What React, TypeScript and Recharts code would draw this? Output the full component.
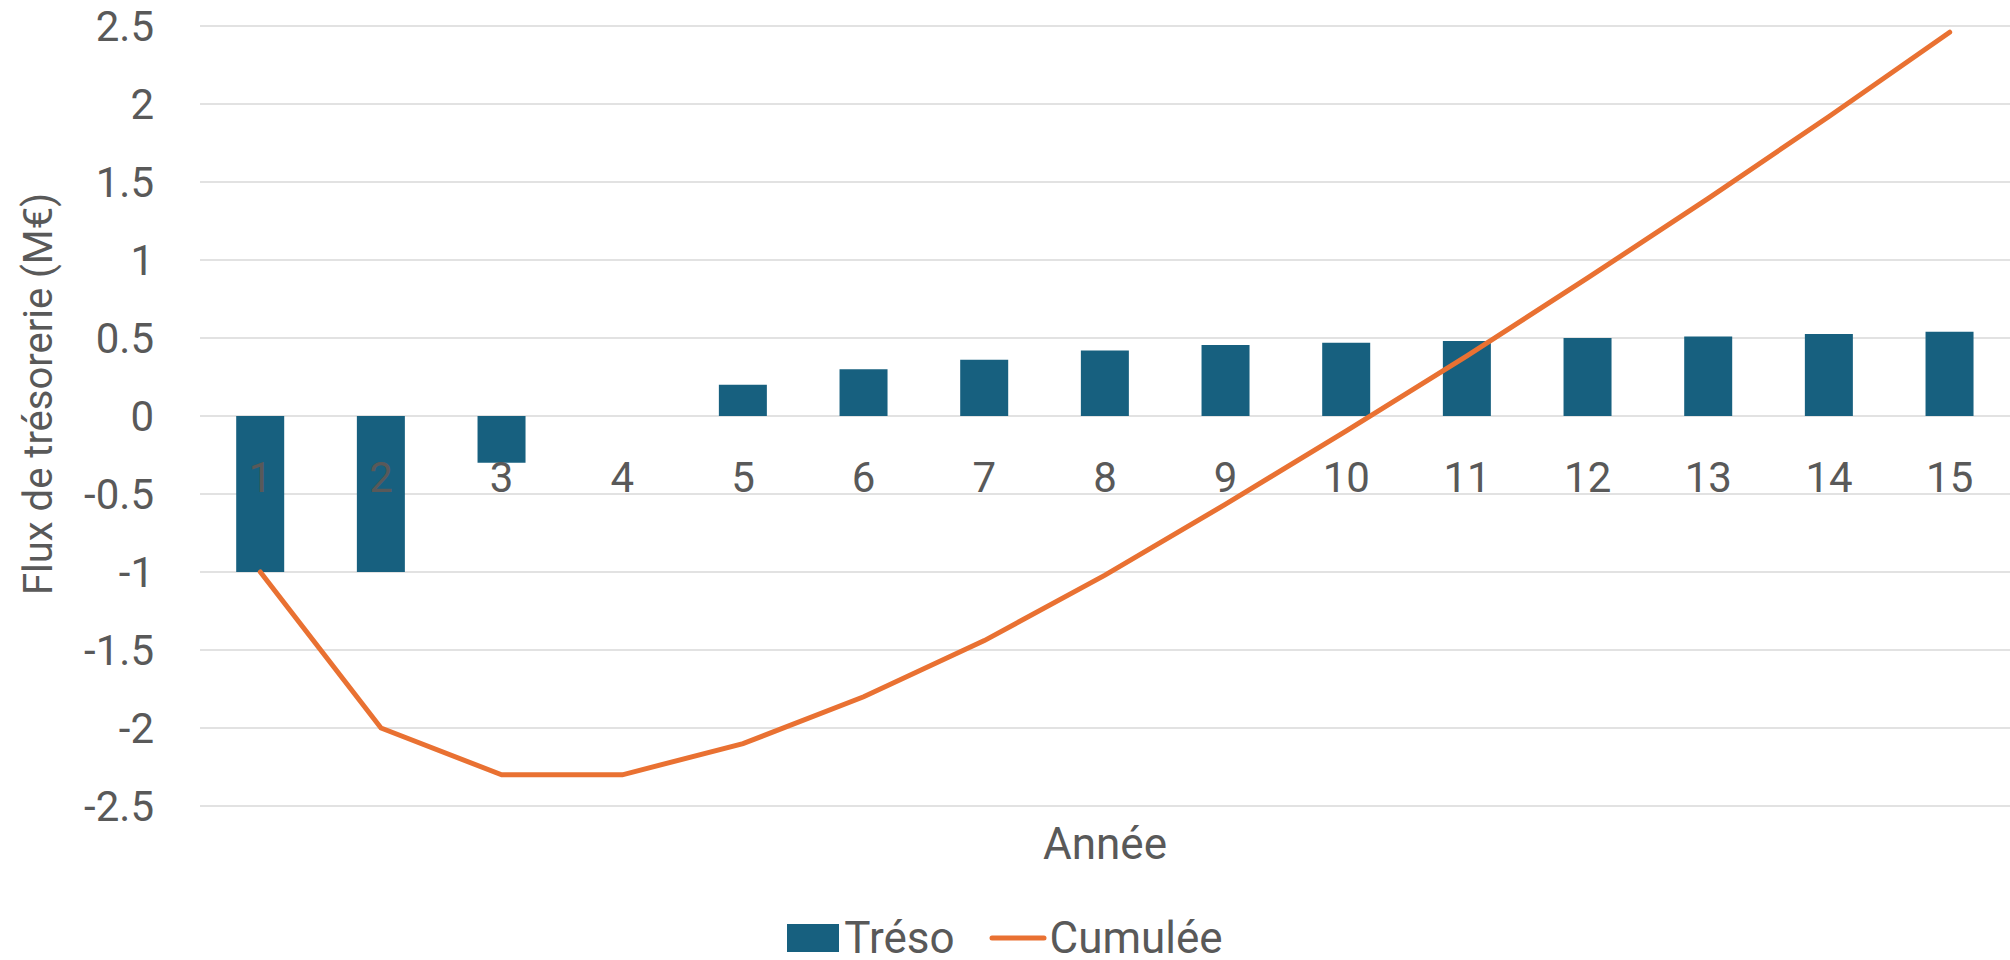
import {
  ComposedChart,
  Bar,
  Line,
  XAxis,
  YAxis,
  CartesianGrid,
  Legend,
} from "recharts";

const years = ["1", "2", "3", "4", "5", "6", "7", "8", "9", "10", "11", "12", "13", "14", "15"];
const treso = [-1, -1, -0.3, 0, 0.2, 0.3, 0.36, 0.42, 0.455, 0.47, 0.48, 0.5, 0.51, 0.525, 0.54];
const cumulee = [-1, -2, -2.3, -2.3, -2.1, -1.8, -1.44, -1.02, -0.565, -0.095, 0.385, 0.885, 1.395, 1.92, 2.46];
const yTicks = [-2.5, -2, -1.5, -1, -0.5, 0, 0.5, 1, 1.5, 2, 2.5];

const data = years.map((year, i) => ({ year, treso: treso[i], cumulee: cumulee[i] }));

const FONT = "Roboto, 'Liberation Sans', sans-serif";
const TEXT = "#595959";
const BLUE = "#17607f";
const ORANGE = "#e97132";

// category labels sit next to the zero line, like in Excel
const CategoryTick = ({ x, y, payload }: any) => (
  <text x={x} y={y} dy={-320} textAnchor='middle' fill={TEXT} fontSize={42} fontFamily={FONT}>
    {payload.value}
  </text>
);

const LegendContent = () => (
  <div
    style={{
      display: "flex",
      justifyContent: "center",
      alignItems: "center",
      height: 44,
      fontFamily: FONT,
      fontSize: 44,
      color: TEXT,
    }}
  >
    <span style={{ width: 52, height: 28, background: BLUE, display: "inline-block", marginRight: 5 }} />
    <span style={{ marginRight: 34 }}>Tréso</span>
    <svg width={58} height={10} style={{ marginRight: 3 }}>
      <line x1={3} y1={5} x2={55} y2={5} stroke={ORANGE} strokeWidth={5} strokeLinecap='round' />
    </svg>
    <span>Cumulée</span>
  </div>
);

const App = () => {
  return (
    <div style={{ position: "absolute", left: 0, top: 0, background: "#fff" }}>
      <ComposedChart
        width={2010}
        height={960}
        data={data}
        margin={{ top: 26, right: 0, left: 0, bottom: 0 }}
        barCategoryGap='30%'
      >
        <CartesianGrid vertical={false} stroke='#d9d9d9' strokeWidth={1.5} />
        <XAxis
          dataKey='year'
          axisLine={false}
          tickLine={false}
          tickMargin={0}
          height={110}
          interval={0}
          tick={<CategoryTick />}
          label={{
            value: "Année",
            position: "insideTop",
            offset: 22,
            fill: TEXT,
            fontSize: 44,
            fontFamily: FONT,
          }}
        />
        <YAxis
          domain={[-2.5, 2.5]}
          ticks={yTicks}
          axisLine={false}
          tickLine={false}
          tickMargin={40}
          width={200}
          tick={{ fill: TEXT, fontSize: 42, fontFamily: FONT }}
          label={{
            value: "Flux de trésorerie (M€)",
            angle: -90,
            position: "center",
            dx: -62,
            dy: -22,
            fill: TEXT,
            fontSize: 40,
            fontFamily: FONT,
          }}
        />
        <Legend verticalAlign='bottom' height={44} content={<LegendContent />} />
        <Bar dataKey='treso' name='Tréso' fill={BLUE} isAnimationActive={false} />
        <Line
          dataKey='cumulee'
          name='Cumulée'
          type='linear'
          stroke={ORANGE}
          strokeWidth={5}
          strokeLinecap='round'
          dot={false}
          activeDot={false}
          isAnimationActive={false}
        />
      </ComposedChart>
    </div>
  );
};

export default App;
